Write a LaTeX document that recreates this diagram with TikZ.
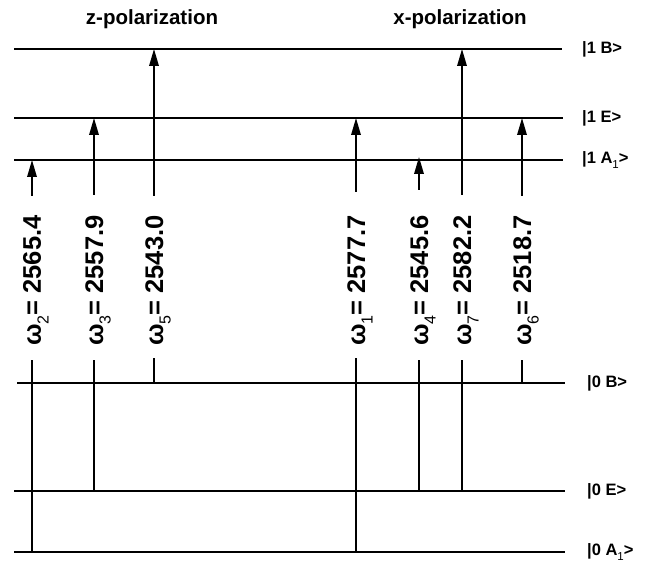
\documentclass[tikz,border=0pt]{standalone}
\usepackage{fontspec}
\setmainfont{Liberation Sans}
\usetikzlibrary{arrows.meta}

% omega with a lowered subscript index, then "= value"
\newcommand\omegalbl[2]{ω\raisebox{-0.3em}{\fontsize{16}{16}\selectfont\mdseries #1}= #2}
% state ket with subscripted symmetry label
\newcommand\ketsub[1]{|#1 A\raisebox{-0.35em}{\fontsize{11.5}{11.5}\selectfont\mdseries 1}>}

\begin{document}
\begin{tikzpicture}[x=1pt,y=-1pt,
  level/.style={line width=2.2pt},
  trans/.style={line width=1.8pt},
  uparrow/.style={trans,-{Triangle[length=17pt,width=9.5pt]}},
  statelbl/.style={anchor=west,inner sep=0pt,font=\fontsize{16.5}{16.5}\selectfont\bfseries},
  freq/.style={rotate=90,anchor=base west,inner sep=0pt,font=\fontsize{25.5}{25.5}\selectfont\bfseries},
  ttl/.style={anchor=base,inner sep=0pt,font=\fontsize{20.5}{20.5}\selectfont\bfseries}]
\useasboundingbox (0,0) rectangle (662,575);

% titles
\node[ttl] (tz) at (152,25) {z-polarization};
\node[ttl] (tx) at (460,25) {x-polarization};

% excited-state levels
\coordinate (B1l) at (14,49);  \coordinate (B1r) at (562,49);
\coordinate (E1l) at (14,118); \coordinate (E1r) at (563,118);
\coordinate (A1l) at (14,160); \coordinate (A1r) at (563,160);
\draw[level] (B1l) -- (B1r);
\draw[level] (E1l) -- (E1r);
\draw[level] (A1l) -- (A1r);
\node[statelbl] (kB1) at (582,49) {|1 B>};
\node[statelbl] (kE1) at (582,118) {|1 E>};
\node[statelbl] (kA1) at (582,160) {\ketsub{1}};

% ground-state levels
\coordinate (B0l) at (17,383); \coordinate (B0r) at (565,383);
\coordinate (E0l) at (14,491); \coordinate (E0r) at (565,491);
\coordinate (A0l) at (14,552); \coordinate (A0r) at (565,552);
\draw[level] (B0l) -- (B0r);
\draw[level] (E0l) -- (E0r);
\draw[level] (A0l) -- (A0r);
\node[statelbl] (kB0) at (587,383) {|0 B>};
\node[statelbl] (kE0) at (587,491) {|0 E>};
\node[statelbl] (kA0) at (587,552) {\ketsub{0}};

% transitions: arrow tail, stem top below the labels
\coordinate (w2a) at (32,196);  \coordinate (w2b) at (32,360);
\coordinate (w3a) at (94,195);  \coordinate (w3b) at (94,360);
\coordinate (w5a) at (154,196); \coordinate (w5b) at (154,358);
\coordinate (w1a) at (356,192); \coordinate (w1b) at (356,358);
\coordinate (w4a) at (419,190); \coordinate (w4b) at (419,360);
\coordinate (w7a) at (462,195); \coordinate (w7b) at (462,360);
\coordinate (w6a) at (522,196); \coordinate (w6b) at (522,360);
\coordinate (w4tip) at (419,157);

% upper arrows into the excited states
\draw[uparrow] (w2a) -- (w2a |- A1l);
\draw[uparrow] (w3a) -- (w3a |- E1l);
\draw[uparrow] (w5a) -- (w5a |- B1l);
\draw[uparrow] (w1a) -- (w1a |- E1l);
\draw[uparrow] (w4a) -- (w4tip);
\draw[uparrow] (w7a) -- (w7a |- B1l);
\draw[uparrow] (w6a) -- (w6a |- E1l);

% lower stems from the ground states
\draw[trans] (w2b) -- (w2b |- A0l);
\draw[trans] (w3b) -- (w3b |- E0l);
\draw[trans] (w5b) -- (w5b |- B0l);
\draw[trans] (w1b) -- (w1b |- A0l);
\draw[trans] (w4b) -- (w4b |- E0l);
\draw[trans] (w7b) -- (w7b |- E0l);
\draw[trans] (w6b) -- (w6b |- B0l);

% frequency labels
\node[freq] (f2) at (41,346) {\omegalbl{2}{2565.4}};
\node[freq] (f3) at (103,346) {\omegalbl{3}{2557.9}};
\node[freq] (f5) at (163,346) {\omegalbl{5}{2543.0}};
\node[freq] (f1) at (365,346) {\omegalbl{1}{2577.7}};
\node[freq] (f4) at (428,346) {\omegalbl{4}{2545.6}};
\node[freq] (f7) at (471,346) {\omegalbl{7}{2582.2}};
\node[freq] (f6) at (531,346) {\omegalbl{6}{2518.7}};
\end{tikzpicture}
\end{document}
